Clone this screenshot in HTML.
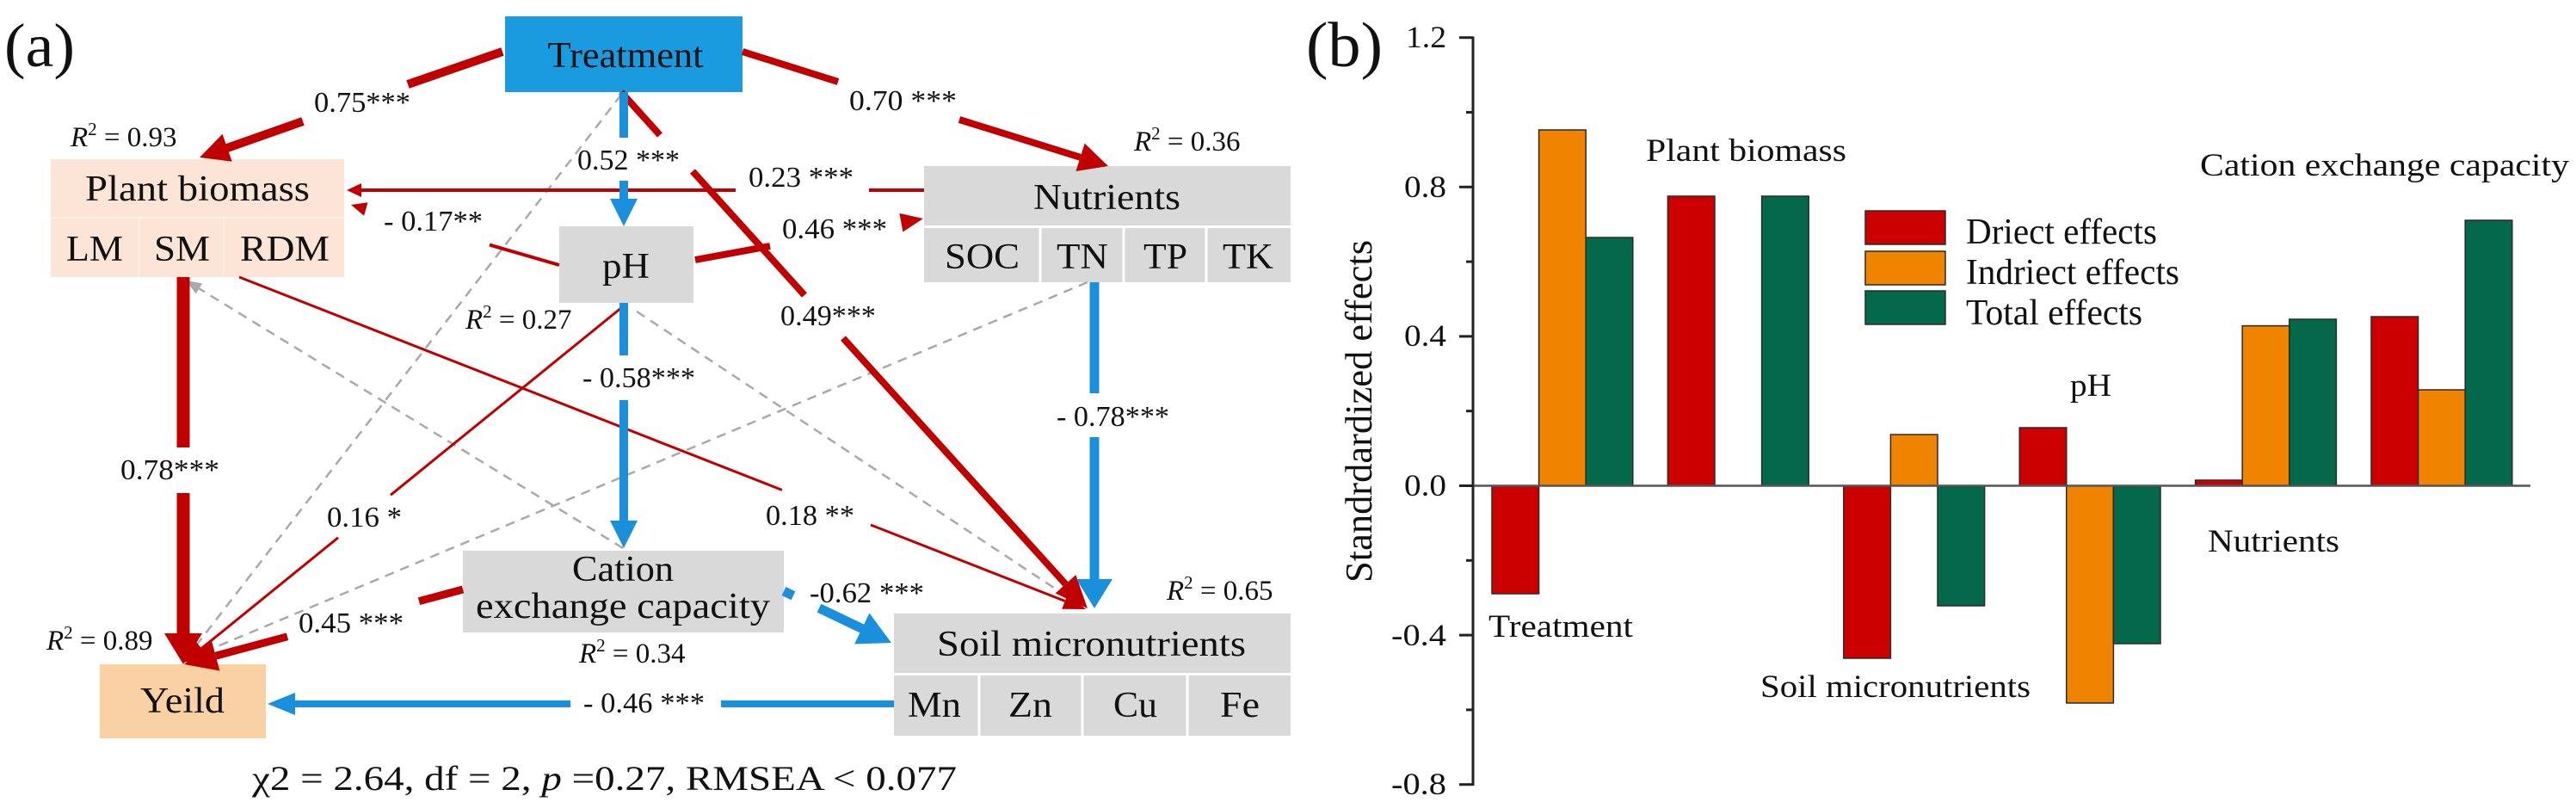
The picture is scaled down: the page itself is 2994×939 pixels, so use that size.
<!DOCTYPE html>
<html>
<head>
<meta charset="utf-8">
<style>
html,body{margin:0;padding:0;background:#fff;}
svg{display:block;}
text{font-family:"Liberation Serif","DejaVu Serif",serif;fill:#111;}
</style>
</head>
<body>
<svg xmlns="http://www.w3.org/2000/svg" width="2994" height="939" viewBox="0 0 2994 939">
<rect x="0" y="0" width="2994" height="939" fill="#fff"/>

<!-- ================= PANEL (a) ================= -->
<text x="5" y="77" font-size="72" textLength="82" lengthAdjust="spacingAndGlyphs">(a)</text>

<!-- Boxes -->
<rect x="587" y="19" width="276" height="88" fill="#1a9be0"/>
<rect x="59" y="185" width="341" height="137" fill="#fce4d6"/>
<line x1="59" y1="253" x2="400" y2="253" stroke="#fff" stroke-width="1.5" opacity="0.5"/>
<line x1="161" y1="253" x2="161" y2="322" stroke="#fff" stroke-width="1.5" opacity="0.5"/>
<line x1="260" y1="253" x2="260" y2="322" stroke="#fff" stroke-width="1.5" opacity="0.5"/>
<rect x="650" y="263" width="156" height="89" fill="#d9d9d9"/>
<rect x="1074" y="193" width="426" height="135" fill="#d9d9d9"/>
<line x1="1074" y1="263.5" x2="1500" y2="263.5" stroke="#fff" stroke-width="3"/>
<line x1="1209" y1="265" x2="1209" y2="328" stroke="#fff" stroke-width="3"/>
<line x1="1306" y1="265" x2="1306" y2="328" stroke="#fff" stroke-width="3"/>
<line x1="1402" y1="265" x2="1402" y2="328" stroke="#fff" stroke-width="3"/>
<rect x="538" y="640" width="373" height="95" fill="#d9d9d9"/>
<rect x="1039" y="713" width="461" height="142" fill="#d9d9d9"/>
<line x1="1039" y1="783.5" x2="1500" y2="783.5" stroke="#fff" stroke-width="3"/>
<line x1="1138" y1="785" x2="1138" y2="855" stroke="#fff" stroke-width="3"/>
<line x1="1258" y1="785" x2="1258" y2="855" stroke="#fff" stroke-width="3"/>
<line x1="1380" y1="785" x2="1380" y2="855" stroke="#fff" stroke-width="3"/>
<rect x="116" y="772" width="193" height="86" fill="#fad1a5"/>

<!-- Dashed gray paths -->
<g stroke="#a9a9a9" stroke-width="2.5" stroke-dasharray="11 8" fill="none">
  <line x1="722" y1="110" x2="226" y2="752.8"/>
  <line x1="724" y1="637" x2="231.4" y2="335.4"/>
  <line x1="740" y1="362" x2="1258" y2="705"/>
  <line x1="1264" y1="328" x2="222" y2="764"/>
</g>
<g fill="#a9a9a9">
  <polygon points="215,767 220.5,748.5 231.5,757.1"/>
  <polygon points="216,326 235.1,329.4 227.7,341.4"/>
</g>

<!-- Red paths -->
<g stroke="#c00000" fill="none" stroke-linecap="butt">
  <!-- 0.75 T->PB -->
  <line x1="584" y1="60" x2="474" y2="98" stroke-width="10"/>
  <line x1="352" y1="141" x2="264" y2="172" stroke-width="10"/>
  <!-- 0.70 T->Nut -->
  <line x1="863" y1="60" x2="974" y2="95" stroke-width="8"/>
  <line x1="1115" y1="139" x2="1255.6" y2="182.8" stroke-width="8"/>
  <!-- 0.49 T->Soil -->
  <line x1="722" y1="107" x2="767" y2="157" stroke-width="8"/>
  <line x1="805" y1="199" x2="935" y2="343" stroke-width="8"/>
  <line x1="980" y1="393" x2="1238.5" y2="678.8" stroke-width="8"/>
  <!-- 0.78 PB->Yield -->
  <line x1="213" y1="322" x2="213" y2="520" stroke-width="15"/>
  <line x1="213" y1="573" x2="213" y2="737" stroke-width="15"/>
  <!-- 0.23 Nut->PB -->
  <line x1="1074" y1="221" x2="1010" y2="221" stroke-width="4"/>
  <line x1="855" y1="221" x2="418" y2="221" stroke-width="4"/>
  <!-- -0.17 pH->PB -->
  <line x1="650" y1="308" x2="569" y2="284.6" stroke-width="4"/>
  <!-- 0.46 pH->Nut -->
  <line x1="808" y1="302" x2="895" y2="286" stroke-width="8"/>
  <!-- 0.16 pH->Yield -->
  <line x1="728" y1="353" x2="454" y2="575.3" stroke-width="3"/>
  <line x1="393" y1="624.8" x2="234.2" y2="753.6" stroke-width="3"/>
  <!-- 0.18 PB->Soil -->
  <line x1="278" y1="322" x2="909" y2="569.5" stroke-width="3"/>
  <line x1="1012" y1="610" x2="1237.8" y2="698.5" stroke-width="3"/>
  <!-- 0.45 CEC->Yield -->
  <line x1="538" y1="685" x2="487" y2="698.7" stroke-width="9"/>
  <line x1="334" y1="739.8" x2="250.7" y2="762.2" stroke-width="9"/>
</g>
<g fill="#c00000">
  <polygon points="232,183 258.5,155.8 269.7,187.8"/>
  <polygon points="1288,193 1250.5,199 1260.7,166.6"/>
  <polygon points="1264,707 1226.6,689.5 1250.4,668.1"/>
  <polygon points="213,772 191,736 235,736"/>
  <polygon points="403,221 420,213 420,229"/>
  <polygon points="408,238 427.5,235.3 423.1,250.7"/>
  <polygon points="1073,254 1049.4,269.5 1045.4,247.9"/>
  <polygon points="214,770 227.9,745.8 240.5,761.4"/>
  <polygon points="1262,708 1234.2,707.8 1241.5,689.2"/>
  <polygon points="214,772 246,744.8 255.4,779.6"/>
</g>

<!-- Blue paths -->
<g stroke="#1a8fdc" fill="none">
  <line x1="725" y1="107" x2="725" y2="160" stroke-width="10"/>
  <line x1="725" y1="210" x2="725" y2="232" stroke-width="10"/>
  <line x1="725" y1="352" x2="725" y2="413" stroke-width="10"/>
  <line x1="725" y1="465" x2="725" y2="606" stroke-width="10"/>
  <line x1="911" y1="687" x2="922" y2="692.3" stroke-width="11"/>
  <line x1="952" y1="706.7" x2="1002" y2="730.6" stroke-width="11"/>
  <line x1="1272" y1="328" x2="1272" y2="457" stroke-width="11"/>
  <line x1="1272" y1="508" x2="1272" y2="674" stroke-width="11"/>
  <line x1="1039" y1="818" x2="838" y2="818" stroke-width="8"/>
  <line x1="663" y1="818" x2="342" y2="818" stroke-width="8"/>
</g>
<g fill="#1a8fdc">
  <polygon points="725,263 709,231 741,231"/>
  <polygon points="725,637 709,605 741,605"/>
  <polygon points="1036,747 993.1,748.5 1010.5,712.5"/>
  <polygon points="1272,707 1251,673 1293,673"/>
  <polygon points="311,818 343,805 343,831"/>
</g>

<!-- Box labels -->
<g font-size="42" text-anchor="middle">
  <text x="727" y="78" textLength="181" lengthAdjust="spacingAndGlyphs" fill="#0b1833">Treatment</text>
  <text x="229.5" y="233" textLength="261" lengthAdjust="spacingAndGlyphs">Plant biomass</text>
  <text x="110" y="303" textLength="66" lengthAdjust="spacingAndGlyphs">LM</text>
  <text x="211.5" y="303" textLength="65" lengthAdjust="spacingAndGlyphs">SM</text>
  <text x="331" y="303" textLength="104" lengthAdjust="spacingAndGlyphs">RDM</text>
  <text x="727.5" y="323" textLength="55" lengthAdjust="spacingAndGlyphs">pH</text>
  <text x="1286.5" y="243" textLength="171" lengthAdjust="spacingAndGlyphs">Nutrients</text>
  <text x="1141.5" y="312" textLength="87" lengthAdjust="spacingAndGlyphs">SOC</text>
  <text x="1258" y="312" textLength="60" lengthAdjust="spacingAndGlyphs">TN</text>
  <text x="1354.5" y="312" textLength="51" lengthAdjust="spacingAndGlyphs">TP</text>
  <text x="1450.5" y="312" textLength="59" lengthAdjust="spacingAndGlyphs">TK</text>
  <text x="724" y="675" textLength="118" lengthAdjust="spacingAndGlyphs">Cation</text>
  <text x="724" y="718" textLength="342" lengthAdjust="spacingAndGlyphs">exchange capacity</text>
  <text x="1268.5" y="762" textLength="359" lengthAdjust="spacingAndGlyphs">Soil micronutrients</text>
  <text x="1086" y="833" textLength="62" lengthAdjust="spacingAndGlyphs">Mn</text>
  <text x="1197.5" y="833" textLength="51" lengthAdjust="spacingAndGlyphs">Zn</text>
  <text x="1319.5" y="833" textLength="51" lengthAdjust="spacingAndGlyphs">Cu</text>
  <text x="1441" y="833" textLength="46" lengthAdjust="spacingAndGlyphs">Fe</text>
  <text x="212" y="828" textLength="98" lengthAdjust="spacingAndGlyphs">Yeild</text>
</g>

<!-- Path coefficients -->
<g font-size="34" fill="#222">
  <text x="365" y="130" textLength="112" lengthAdjust="spacingAndGlyphs">0.75***</text>
  <text x="987" y="128" textLength="125" lengthAdjust="spacingAndGlyphs">0.70 ***</text>
  <text x="671" y="197" textLength="119" lengthAdjust="spacingAndGlyphs">0.52 ***</text>
  <text x="870" y="217" textLength="122" lengthAdjust="spacingAndGlyphs">0.23 ***</text>
  <text x="446" y="268" textLength="115" lengthAdjust="spacingAndGlyphs">- 0.17**</text>
  <text x="909" y="277" textLength="122" lengthAdjust="spacingAndGlyphs">0.46 ***</text>
  <text x="907" y="378" textLength="111" lengthAdjust="spacingAndGlyphs">0.49***</text>
  <text x="677" y="450" textLength="131" lengthAdjust="spacingAndGlyphs">- 0.58***</text>
  <text x="1228" y="495" textLength="131" lengthAdjust="spacingAndGlyphs">- 0.78***</text>
  <text x="140" y="557" textLength="115" lengthAdjust="spacingAndGlyphs">0.78***</text>
  <text x="380" y="612" textLength="87" lengthAdjust="spacingAndGlyphs">0.16 *</text>
  <text x="890" y="610" textLength="103" lengthAdjust="spacingAndGlyphs">0.18 **</text>
  <text x="941" y="700" textLength="133" lengthAdjust="spacingAndGlyphs">-0.62 ***</text>
  <text x="347" y="735" textLength="122" lengthAdjust="spacingAndGlyphs">0.45 ***</text>
  <text x="678" y="828" textLength="141" lengthAdjust="spacingAndGlyphs">- 0.46 ***</text>
</g>

<!-- R squared -->
<g font-size="33" fill="#222">
  <text x="82" y="170"><tspan font-style="italic">R</tspan><tspan dy="-13" font-size="21">2</tspan><tspan dy="13"> = 0.93</tspan></text>
  <text x="541" y="382"><tspan font-style="italic">R</tspan><tspan dy="-13" font-size="21">2</tspan><tspan dy="13"> = 0.27</tspan></text>
  <text x="1318" y="175"><tspan font-style="italic">R</tspan><tspan dy="-13" font-size="21">2</tspan><tspan dy="13"> = 0.36</tspan></text>
  <text x="673" y="770"><tspan font-style="italic">R</tspan><tspan dy="-13" font-size="21">2</tspan><tspan dy="13"> = 0.34</tspan></text>
  <text x="1356" y="697"><tspan font-style="italic">R</tspan><tspan dy="-13" font-size="21">2</tspan><tspan dy="13"> = 0.65</tspan></text>
  <text x="54" y="755"><tspan font-style="italic">R</tspan><tspan dy="-13" font-size="21">2</tspan><tspan dy="13"> = 0.89</tspan></text>
</g>

<text x="293" y="918" font-size="40" textLength="819" lengthAdjust="spacingAndGlyphs">χ2 = 2.64, df = 2, <tspan font-style="italic">p</tspan> =0.27, RMSEA &lt; 0.077</text>

<!-- ================= PANEL (b) ================= -->
<text x="1518" y="77" font-size="74" textLength="89" lengthAdjust="spacingAndGlyphs">(b)</text>

<text transform="translate(1594,478) rotate(-90)" text-anchor="middle" font-size="44" textLength="398" lengthAdjust="spacingAndGlyphs" fill="#222">Standrdardized effects</text>

<!-- Bars -->
<g stroke="#2a2a2a" stroke-width="1.5">
  <!-- Treatment -->
  <rect x="1734" y="564.5" width="54.6" height="125.5" fill="#cc0000"/>
  <rect x="1788.6" y="151" width="54.6" height="413.5" fill="#f08400"/>
  <rect x="1843.2" y="276" width="54.6" height="288.5" fill="#03694a"/>
  <!-- Plant biomass -->
  <rect x="1938.4" y="228" width="54.6" height="336.5" fill="#cc0000"/>
  <rect x="2047.6" y="228" width="54.6" height="336.5" fill="#03694a"/>
  <!-- Soil micronutrients -->
  <rect x="2142.8" y="564.5" width="54.6" height="200.5" fill="#cc0000"/>
  <rect x="2197.4" y="505" width="54.6" height="59.5" fill="#f08400"/>
  <rect x="2252" y="564.5" width="54.6" height="139.5" fill="#03694a"/>
  <!-- pH -->
  <rect x="2347.2" y="497" width="54.6" height="67.5" fill="#cc0000"/>
  <rect x="2401.8" y="564.5" width="54.6" height="252.5" fill="#f08400"/>
  <rect x="2456.4" y="564.5" width="54.6" height="183.5" fill="#03694a"/>
  <!-- Nutrients -->
  <rect x="2551.6" y="558" width="54.6" height="6.5" fill="#cc0000"/>
  <rect x="2606.2" y="378.6" width="54.6" height="185.9" fill="#f08400"/>
  <rect x="2660.8" y="371" width="54.6" height="193.5" fill="#03694a"/>
  <!-- CEC -->
  <rect x="2756" y="368" width="54.6" height="196.5" fill="#cc0000"/>
  <rect x="2810.6" y="453" width="54.6" height="111.5" fill="#f08400"/>
  <rect x="2865.2" y="256" width="54.6" height="308.5" fill="#03694a"/>
  <!-- Legend swatches -->
  <rect x="2168" y="245" width="93" height="39" fill="#cc0000"/>
  <rect x="2168" y="292" width="93" height="39" fill="#f08400"/>
  <rect x="2168" y="338" width="93" height="39" fill="#03694a"/>
</g>

<!-- zero line -->
<line x1="1712" y1="564.5" x2="2941" y2="564.5" stroke="#555" stroke-width="2.5"/>

<!-- Axis -->
<g stroke="#222" stroke-width="3">
  <line x1="1712" y1="42.5" x2="1712" y2="913"/>
  <line x1="1696" y1="43.7" x2="1712" y2="43.7"/>
  <line x1="1696" y1="217.3" x2="1712" y2="217.3"/>
  <line x1="1696" y1="390.9" x2="1712" y2="390.9"/>
  <line x1="1696" y1="564.5" x2="1712" y2="564.5"/>
  <line x1="1696" y1="738.1" x2="1712" y2="738.1"/>
  <line x1="1696" y1="911.7" x2="1712" y2="911.7"/>
  <line x1="1704" y1="130.5" x2="1712" y2="130.5"/>
  <line x1="1704" y1="304.1" x2="1712" y2="304.1"/>
  <line x1="1704" y1="477.7" x2="1712" y2="477.7"/>
  <line x1="1704" y1="651.3" x2="1712" y2="651.3"/>
  <line x1="1704" y1="824.9" x2="1712" y2="824.9"/>
</g>
<g font-size="36" text-anchor="end" fill="#222">
  <text x="1681" y="55" textLength="47" lengthAdjust="spacingAndGlyphs">1.2</text>
  <text x="1681" y="229" textLength="49" lengthAdjust="spacingAndGlyphs">0.8</text>
  <text x="1681" y="402" textLength="49" lengthAdjust="spacingAndGlyphs">0.4</text>
  <text x="1681" y="576" textLength="49" lengthAdjust="spacingAndGlyphs">0.0</text>
  <text x="1681" y="750" textLength="64" lengthAdjust="spacingAndGlyphs">-0.4</text>
  <text x="1681" y="923" textLength="64" lengthAdjust="spacingAndGlyphs">-0.8</text>
</g>

<!-- Legend text -->
<g font-size="42" fill="#222">
  <text x="2285" y="283" textLength="222" lengthAdjust="spacingAndGlyphs">Driect effects</text>
  <text x="2285" y="330" textLength="248" lengthAdjust="spacingAndGlyphs">Indriect effects</text>
  <text x="2285" y="377" textLength="205" lengthAdjust="spacingAndGlyphs">Total effects</text>
</g>

<!-- Category labels -->
<g font-size="37" fill="#222">
  <text x="1913" y="187" textLength="233" lengthAdjust="spacingAndGlyphs">Plant biomass</text>
  <text x="2557" y="204" textLength="429" lengthAdjust="spacingAndGlyphs">Cation exchange capacity</text>
  <text x="1730" y="740" textLength="168" lengthAdjust="spacingAndGlyphs">Treatment</text>
  <text x="2406" y="460" textLength="48" lengthAdjust="spacingAndGlyphs">pH</text>
  <text x="2566" y="641" textLength="153" lengthAdjust="spacingAndGlyphs">Nutrients</text>
  <text x="2046" y="810" textLength="314" lengthAdjust="spacingAndGlyphs">Soil micronutrients</text>
</g>
</svg>
</body>
</html>
